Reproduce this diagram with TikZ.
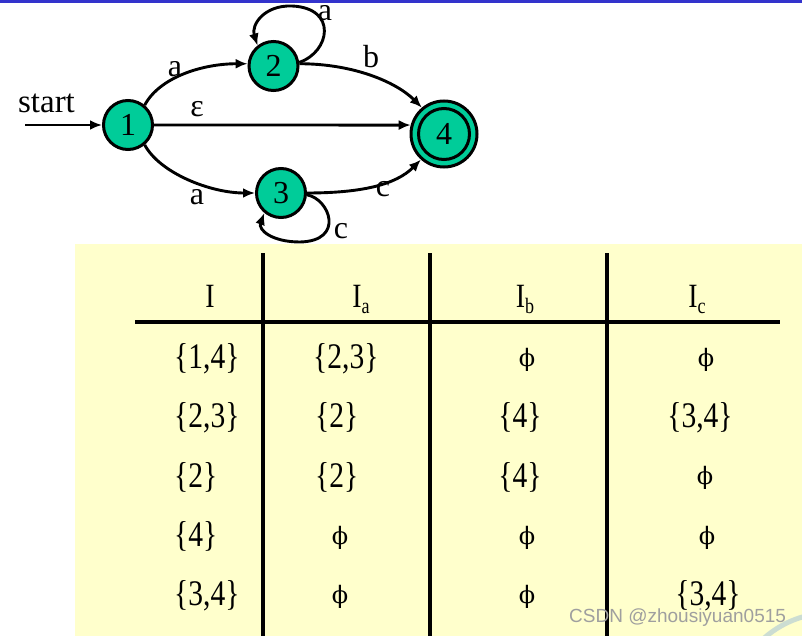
\documentclass[tikz,border=0pt]{standalone}
\usepackage{fontspec}
\setmainfont{Liberation Serif}
\newfontfamily\condserif[FakeStretch=0.82]{Liberation Serif}
\newfontfamily\phifont{DejaVu Serif}
\newfontfamily\wmfont{Liberation Sans}
\usetikzlibrary{arrows.meta}
\definecolor{stategreen}{HTML}{00CC99}
\definecolor{tableyellow}{HTML}{FFFFCC}
\definecolor{barblue}{HTML}{3333CC}
\definecolor{arcgreen}{HTML}{CCDDD2}
\newcommand\subx[1]{\raisebox{-6pt}{\fontsize{22}{22}\selectfont #1}}
\begin{document}
\begin{tikzpicture}[x=1pt,y=-1pt,
  state/.style={circle, draw=black, line width=3pt, fill=stategreen, minimum size=49pt, inner sep=0pt, font=\fontsize{32}{32}\selectfont},
  edge/.style={line width=2.9pt, -{Latex[length=12pt,width=10pt]}},
  lbl/.style={font=\fontsize{32}{32}\selectfont, anchor=base, inner sep=0pt},
  tline/.style={line width=4pt},
  hdr/.style={font=\condserif\fontsize{34}{34}\selectfont, anchor=base, inner sep=0pt},
  cellL/.style={font=\condserif\fontsize{36}{36}\selectfont, anchor=base west, inner sep=0pt},
  cellC/.style={font=\condserif\fontsize{36}{36}\selectfont, anchor=base, inner sep=0pt},
  phic/.style={font=\phifont\fontsize{24}{24}\selectfont, anchor=base, inner sep=0pt}
]
\useasboundingbox (0,0) rectangle (802,636);
\fill[white] (0,0) rectangle (802,636);
\fill[barblue] (0,0) rectangle (802,3);
\fill[tableyellow] (75,244) rectangle (802,636);

% states
\node[state] (n1) at (128,125) {1};
\node[state] (n2) at (273.5,66) {2};
\node[state] (n3) at (281,193) {3};
\node[state, minimum size=66pt] (n4) at (444,134) {4};
\draw[line width=3pt] (n4.center) circle[radius=25.5pt];

% start
\coordinate (s) at (25,125);
\draw[edge] (s) -- (n1);
\node[lbl, font=\fontsize{33}{33}\selectfont] (st) at (46.5,113) {start};

% transitions
\draw[edge] (n1.50) .. controls +(15,-28) and +(-45,0) .. (n2.175);
\draw[edge] (n2.5) .. controls +(55,0) and +(-25,-25) .. (n4.130);
\draw[edge] (n1.east) -- (n4.165);
\draw[edge] (n1.-50) .. controls +(15,28) and +(-45,0) .. (n3.west);
\draw[edge] (n3.east) .. controls +(55,0) and +(-25,25) .. (n4.228);
\draw[edge] (n2.8) .. controls (330,52) and (338,8) .. (292,6) .. controls (264,5) and (251,25) .. (n2.128);
\draw[edge] (n3.-4) .. controls (330,199) and (345,241) .. (300,242) .. controls (272,242) and (258,230) .. (n3.230);

% labels
\node[lbl] (la1) at (175,77) {a};
\node[lbl] (lb) at (371,68) {b};
\node[lbl] (le) at (197,117) {ε};
\node[lbl] (la2) at (197,205) {a};
\node[lbl] (lc1) at (383,197) {c};
\node[lbl] (la3) at (325,21) {a};
\node[lbl] (lc2) at (341,238) {c};

% table lines
\draw[tline] (135,322) -- (780,322);
\draw[tline] (263,253) -- (263,636);
\draw[tline] (430,253) -- (430,636);
\draw[tline] (607,253) -- (607,636);

% header
\node[hdr] (h1) at (210,307) {I};
\node[hdr] (h2) at (361,307) {I\subx{a}};
\node[hdr] (h3) at (525,307) {I\subx{b}};
\node[hdr] (h4) at (697,307) {I\subx{c}};

% row 1
\node[cellL] (r1c1) at (174,368.5) {\{1,4\}};
\node[cellL] (r1c2) at (313,368.5) {\{2,3\}};
\node[phic] (r1c3) at (527,366) {ϕ};
\node[phic] (r1c4) at (706,366) {ϕ};
% row 2
\node[cellL] (r2c1) at (174,427.75) {\{2,3\}};
\node[cellL] (r2c2) at (315,427.75) {\{2\}};
\node[cellC] (r2c3) at (520,427.75) {\{4\}};
\node[cellC] (r2c4) at (700,427.75) {\{3,4\}};
% row 3
\node[cellL] (r3c1) at (174,487) {\{2\}};
\node[cellL] (r3c2) at (315,487) {\{2\}};
\node[cellC] (r3c3) at (520,487) {\{4\}};
\node[phic] (r3c4) at (705,484.5) {ϕ};
% row 4
\node[cellL] (r4c1) at (174,546.25) {\{4\}};
\node[phic] (r4c2) at (340,544) {ϕ};
\node[phic] (r4c3) at (527,544) {ϕ};
\node[phic] (r4c4) at (707,544) {ϕ};
% row 5
\node[cellL] (r5c1) at (174,605.5) {\{3,4\}};
\node[phic] (r5c2) at (340,603) {ϕ};
\node[phic] (r5c3) at (527,603) {ϕ};
\node[cellC] (r5c4) at (708,605.5) {\{3,4\}};

% background decoration and watermark
\draw[line width=5pt, arcgreen] (762,640) .. controls (775,628) and (790,620) .. (806,616);
\node[font=\wmfont\fontsize{19}{19}\selectfont, text=gray!75, anchor=base west, inner sep=0pt] (wm) at (569,622) {CSDN @zhousiyuan0515};
\end{tikzpicture}
\end{document}
